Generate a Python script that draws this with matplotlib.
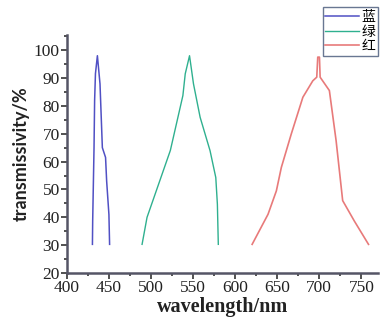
import matplotlib
matplotlib.use("Agg")
import matplotlib.pyplot as plt
from matplotlib.ticker import MultipleLocator

# spectral transmission curves
blue_wl = [430.4, 430.7, 432.3, 433.0, 434.0, 436.3, 439.4, 442.2, 446.0, 447.3, 450.0, 450.8]
blue_t = [30.3, 38.7, 65.0, 82.0, 91.6, 98.0, 87.9, 65.0, 61.5, 53.0, 41.0, 30.3]

green_wl = [489.4, 495.3, 523.0, 537.9, 540.7, 545.8, 550.5, 558.4, 570.2, 577.0, 578.9, 580.0]
green_t = [30.3, 40.0, 64.0, 83.7, 91.5, 98.0, 87.9, 75.9, 63.9, 54.3, 44.7, 30.3]

red_wl = [620.2, 639.1, 649.0, 654.9, 666.7, 680.5, 692.3, 697.0, 698.2, 700.2, 701.0,
          712.0, 720.0, 727.8, 741.6, 758.5]
red_t = [30.3, 41.1, 49.5, 57.9, 69.9, 83.1, 89.0, 90.3, 97.5, 97.5, 90.3,
         85.5, 67.5, 46.0, 38.7, 30.3]

labels = ["蓝", "绿", "红"]

fig = plt.figure(figsize=(3.82, 3.22), dpi=100)
ax = fig.add_axes([0.175, 0.152, 0.815, 0.739])

l1, = ax.plot(blue_wl, blue_t, color="#5050c4", lw=1.1)
l2, = ax.plot(green_wl, green_t, color="#2fb08f", lw=1.0)
l3, = ax.plot(red_wl, red_t, color="#e87a7a", lw=1.2)

ax.set_xlim(400, 770)
ax.set_ylim(20, 105.4)
ax.xaxis.set_major_locator(MultipleLocator(50))
ax.xaxis.set_minor_locator(MultipleLocator(25))
ax.yaxis.set_major_locator(MultipleLocator(10))
ax.yaxis.set_minor_locator(MultipleLocator(5))
ax.tick_params(which="both", direction="out", width=1.2, color="#333333")
ax.tick_params(which="major", length=4, pad=1)
ax.tick_params(which="minor", length=2.5)
for lab in ax.get_xticklabels() + ax.get_yticklabels():
    lab.set_family("Liberation Serif")
    lab.set_fontsize(12.5)
    lab.set_color("#222222")

for s in ["top", "right"]:
    ax.spines[s].set_visible(False)
for s in ["left", "bottom"]:
    ax.spines[s].set_linewidth(1.8)
    ax.spines[s].set_color("#555566")

ax.set_xlabel("wavelength/nm", family="Liberation Serif", fontsize=14.5,
              fontweight="bold", color="#222222", labelpad=1)
ax.set_ylabel("transmissivity/%", family="Lato", fontsize=13,
              fontweight="bold", color="#222222", labelpad=3)

leg = fig.legend([l1, l2, l3], labels, loc="upper right",
                 bbox_to_anchor=(0.99, 0.978), frameon=True, fancybox=False,
                 prop={"family": ["Noto Sans CJK SC", "DejaVu Sans"], "size": 10},
                 handlelength=2.4, handletextpad=0.2, borderpad=0.2,
                 labelspacing=0.05, borderaxespad=0)
leg.get_frame().set_edgecolor("#445577")
leg.get_frame().set_linewidth(1.0)

fig.savefig("out.png", dpi=100)
